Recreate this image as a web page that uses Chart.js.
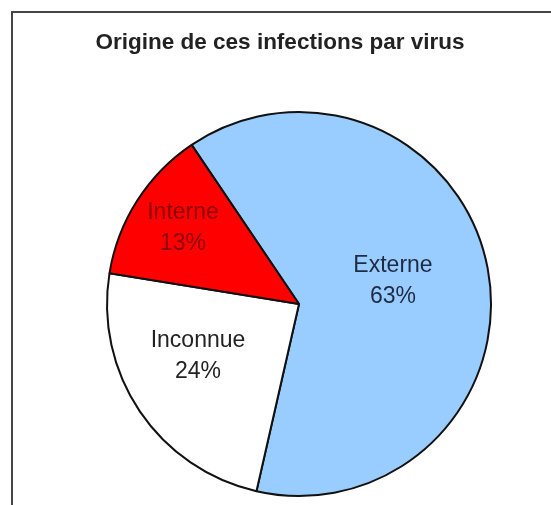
<!DOCTYPE html>
<html>
<head>
<meta charset="utf-8">
<script src="https://cdn.jsdelivr.net/npm/chart.js@4.4.0/dist/chart.umd.min.js"></script>
<style>
  html, body { margin: 0; padding: 0; background: #fff; }
  #wrap { position: relative; width: 551px; height: 505px; }
</style>
</head>
<body>
<div id="wrap"><canvas id="mycanvas" width="551" height="505"></canvas></div>
<script>
const ctx = document.querySelector("#mycanvas").getContext("2d");

// data
const title = "Origine de ces infections par virus";
const labels = ["Externe", "Inconnue", "Interne"];
const values = [63, 24, 13];
const colors = ["#99ccff", "#ffffff", "#ff0000"];
const textColors = ["#1f2a44", "#222222", "#8b0000"];
// where each slice's label sits
const labelPos = [
  { x: 393, y: 281 },
  { x: 198, y: 356 },
  { x: 183, y: 228 },
];

// frame + title drawn behind the pie
const framePlugin = {
  id: "frame",
  beforeDraw(chart) {
    const c = chart.ctx;
    c.save();
    c.fillStyle = "#fff";
    c.fillRect(0, 0, chart.width, chart.height);
    c.strokeStyle = "#444";
    c.lineWidth = 2;
    c.beginPath();
    c.moveTo(12, chart.height + 5);
    c.lineTo(12, 12);
    c.lineTo(chart.width + 5, 12);
    c.stroke();
    c.fillStyle = "#222";
    c.font = "bold 22.5px 'Liberation Sans', Arial, sans-serif";
    c.textAlign = "center";
    c.textBaseline = "middle";
    c.fillText(title, 280, 43);
    c.restore();
  },
};

// percent labels inside slices
const sliceLabels = {
  id: "sliceLabels",
  afterDatasetsDraw(chart) {
    const c = chart.ctx;
    const total = values.reduce((a, b) => a + b, 0);
    c.save();
    c.font = "23px 'Liberation Sans', Arial, sans-serif";
    c.textAlign = "center";
    c.textBaseline = "middle";
    chart.getDatasetMeta(0).data.forEach((arc, i) => {
      const p = labelPos[i];
      c.fillStyle = textColors[i];
      c.fillText(labels[i], p.x, p.y - 15);
      c.fillText(Math.round(values[i] / total * 100) + "%", p.x, p.y + 16);
    });
    c.restore();
  },
};

new Chart(ctx, {
  type: "pie",
  data: {
    labels,
    datasets: [
      {
        data: values,
        backgroundColor: colors,
        borderColor: "#111",
        borderWidth: 2,
      },
    ],
  },
  options: {
    responsive: false,
    animation: false,
    rotation: -34,
    layout: { padding: { left: 106, right: 59, top: 111, bottom: 8 } },
    plugins: {
      legend: { display: false },
      title: { display: false },
      tooltip: { enabled: false },
    },
  },
  plugins: [framePlugin, sliceLabels],
});
</script>
</body>
</html>
